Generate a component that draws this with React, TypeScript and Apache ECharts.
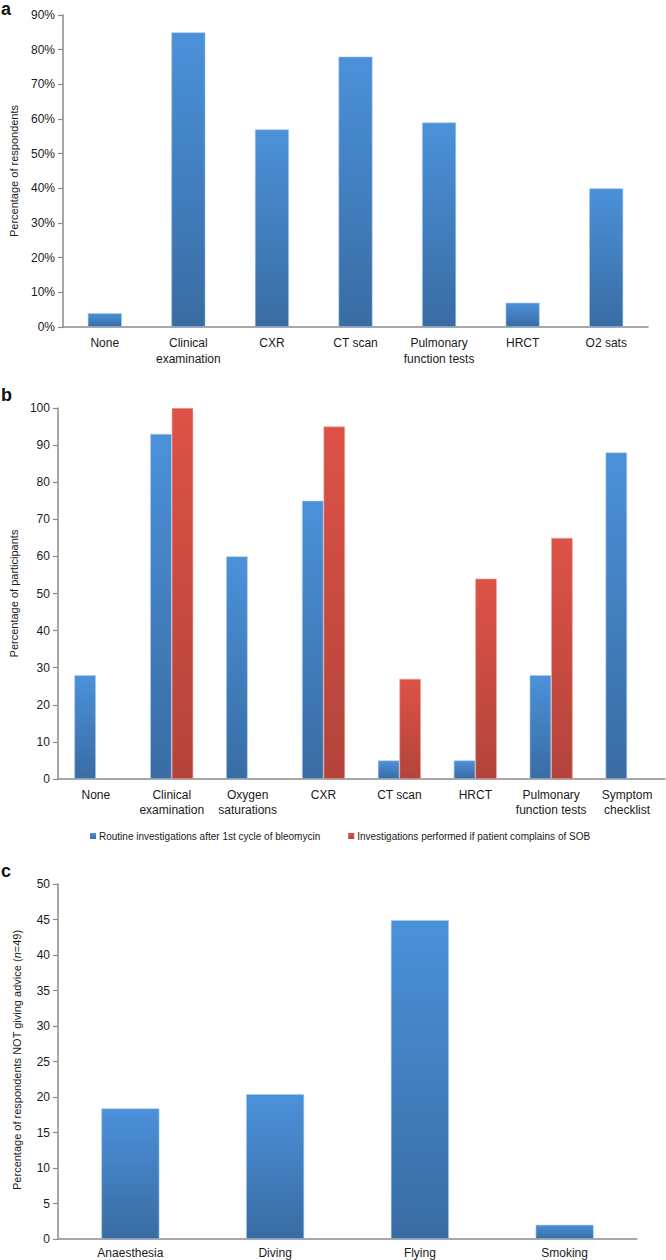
import React, { useEffect, useRef } from "react";
import * as echarts from "echarts";

const catsA = ["None", "Clinical\nexamination", "CXR", "CT scan", "Pulmonary\nfunction tests", "HRCT", "O2 sats"];
const valsA = [4, 85, 57, 78, 59, 7, 40];
const ticksA = { min: 0, max: 90, interval: 10 };

const catsB = ["None", "Clinical\nexamination", "Oxygen\nsaturations", "CXR", "CT scan", "HRCT", "Pulmonary\nfunction tests", "Symptom\nchecklist"];
const routineB = [28, 93, 60, 75, 5, 5, 28, 88];
const sobB = [null, 100, null, 95, 27, 54, 65, null];
const nameRoutine = "Routine investigations after 1st cycle of bleomycin";
const nameSob = "Investigations performed if patient complains of SOB";
const ticksB = { min: 0, max: 100, interval: 10 };

const catsC = ["Anaesthesia", "Diving", "Flying", "Smoking"];
const valsC = [18.4, 20.4, 44.9, 2.0];
const ticksC = { min: 0, max: 50, interval: 5 };

const FONT = "'Liberation Sans', Arial, Helvetica, sans-serif";
const AXIS = "#8a8a8a";

const blue = new echarts.graphic.LinearGradient(0, 0, 0, 1, [
  { offset: 0, color: "#4b91da" },
  { offset: 1, color: "#396ca3" },
]);
const red = new echarts.graphic.LinearGradient(0, 0, 0, 1, [
  { offset: 0, color: "#dd5247" },
  { offset: 1, color: "#b3443b" },
]);

function xAxis(gridIndex: number, data: string[], lh: number, margin: number) {
  return {
    type: "category",
    gridIndex,
    data,
    axisLine: { lineStyle: { color: AXIS, width: 1.5 } },
    axisTick: { length: 5, lineStyle: { color: AXIS, width: 1.2 } },
    axisLabel: { interval: 0, color: "#1a1a1a", fontSize: 12, fontFamily: FONT, lineHeight: lh, margin },
  };
}

function yAxis(gridIndex: number, t: any, name: string, nameGap: number, fmt?: string) {
  return {
    type: "value",
    gridIndex,
    min: t.min,
    max: t.max,
    interval: t.interval,
    name,
    nameLocation: "middle",
    nameRotate: 90,
    nameGap,
    nameTextStyle: { fontSize: 11, color: "#1a1a1a", fontFamily: FONT },
    splitLine: { show: false },
    axisLine: { show: true, lineStyle: { color: AXIS, width: 1.5 } },
    axisTick: { show: true, length: 5, lineStyle: { color: AXIS, width: 1.2 } },
    axisLabel: { color: "#1a1a1a", fontSize: 12, fontFamily: FONT, margin: 8, formatter: fmt || "{value}" },
  };
}

export default function App() {
  const ref = useRef<HTMLDivElement>(null);
  useEffect(() => {
    document.body.style.margin = "0";
    const chart = echarts.init(ref.current!, null, { renderer: "svg" });
    const option: any = {
      animation: false,
      backgroundColor: "#ffffff",
      textStyle: { fontFamily: FONT },
      grid: [
        { left: 58, top: 15, width: 590, height: 312 },
        { left: 57, top: 408, width: 608, height: 371 },
        { left: 58, top: 884, width: 579, height: 357 },
      ],
      legend: {
        data: [nameRoutine, nameSob],
        left: 85,
        top: 826,
        icon: "rect",
        itemWidth: 6,
        itemHeight: 6,
        itemGap: 28,
        itemStyle: { borderWidth: 0 },
        textStyle: { fontSize: 10, color: "#1a1a1a", fontFamily: FONT, padding: [0, 0, 0, -2] },
      },
      xAxis: [xAxis(0, catsA, 16, 8), xAxis(1, catsB, 15, 8), xAxis(2, catsC, 15, 6)],
      yAxis: [
        yAxis(0, ticksA, "Percentage of respondents", 44, "{value}%"),
        yAxis(1, ticksB, "Percentage of participants", 38),
        yAxis(2, ticksC, "", 33),
      ],
      series: [
        {
          type: "bar", name: "a", xAxisIndex: 0, yAxisIndex: 0, data: valsA, barWidth: 34,
          itemStyle: { color: blue, borderColor: "#a9cbee", borderWidth: 0.6 },
        },
        {
          type: "bar", name: nameRoutine, xAxisIndex: 1, yAxisIndex: 1, data: routineB, barWidth: 21.5, barGap: "0%",
          itemStyle: { color: blue, borderColor: "#a9cbee", borderWidth: 0.6 },
        },
        {
          type: "bar", name: nameSob, xAxisIndex: 1, yAxisIndex: 1, data: sobB, barWidth: 21.5, barGap: "0%",
          itemStyle: { color: red, borderColor: "#f0aaa4", borderWidth: 0.6 },
        },
        {
          type: "bar", name: "c", xAxisIndex: 2, yAxisIndex: 2, data: valsC, barWidth: 58,
          itemStyle: { color: blue, borderColor: "#a9cbee", borderWidth: 0.6 },
        },
      ],
      color: ["#4a8fd8", "#d9534a"],
      graphic: [
        { type: "text", x: 1, y: 0, style: { text: "a", font: "bold 18px " + FONT, fill: "#111" } },
        { type: "text", x: 1, y: 386, style: { text: "b", font: "bold 18px " + FONT, fill: "#111" } },
        { type: "text", x: 1, y: 862, style: { text: "c", font: "bold 18px " + FONT, fill: "#111" } },
        {
          type: "text",
          x: 17,
          y: 1060,
          rotation: Math.PI / 2,
          style: {
            text: "{a|Percentage of respondents NOT giving advice (}{i|n}{a|=49)}",
            align: "center",
            verticalAlign: "middle",
            rich: {
              a: { fontSize: 11, fill: "#1a1a1a", fontFamily: FONT },
              i: { fontSize: 11, fill: "#1a1a1a", fontFamily: FONT, fontStyle: "italic" },
            },
          },
        },
      ],
    };
    chart.setOption(option);
    return () => chart.dispose();
  }, []);
  return <div ref={ref} style={{ width: 666, height: 1260 }} />;
}
